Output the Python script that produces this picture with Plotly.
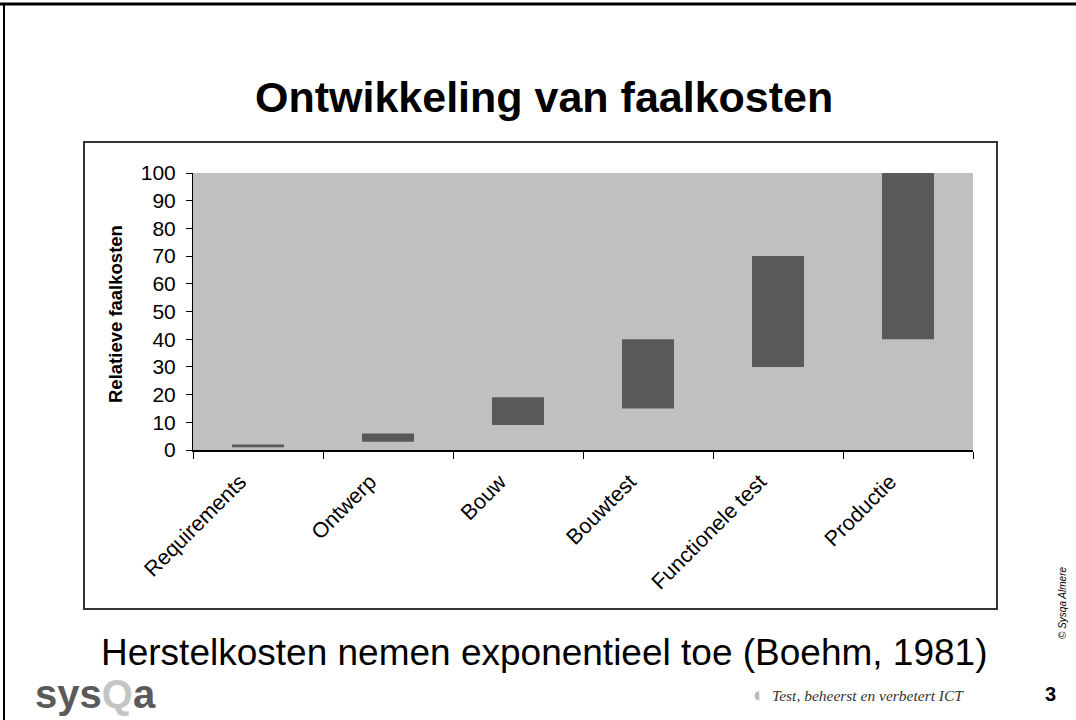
import plotly.graph_objects as go

categories = ["Requirements", "Ontwerp", "Bouw", "Bouwtest", "Functionele test", "Productie"]
low_values = [1, 3, 9, 15, 30, 40]
high_values = [2, 6, 19, 40, 70, 100]
y_ticks = [0, 10, 20, 30, 40, 50, 60, 70, 80, 90, 100]

W, H = 1076, 720
L, R, T, B = 193, 973, 173, 450

def px(x):
    return (x - L) / (R - L)

def py(y):
    return (B - y) / (B - T)

FONT = "Arial, Liberation Sans, sans-serif"

fig = go.Figure()
fig.add_trace(go.Bar(
    x=categories,
    y=[h - l for h, l in zip(high_values, low_values)],
    base=low_values,
    width=0.4,
    marker=dict(color="#595959", line=dict(width=0)),
    hoverinfo="skip",
))

fig.update_layout(
    width=W, height=H,
    margin=dict(l=L, r=W - R, t=T, b=H - B, pad=0),
    paper_bgcolor="white",
    plot_bgcolor="#c0c0c0",
    showlegend=False,
    font=dict(family=FONT, color="black"),
    bargap=0.6,
)

fig.update_yaxes(
    range=[0, 100], tickvals=y_ticks, ticktext=[str(v) for v in y_ticks],
    showgrid=False, zeroline=False,
    showline=True, linecolor="black", linewidth=1,
    ticks="outside", ticklen=6, tickcolor="black",
    ticklabelstandoff=6,
    tickfont=dict(size=21, family=FONT, color="black"),
    fixedrange=True,
)
fig.update_xaxes(
    showgrid=False, zeroline=False,
    showline=True, linecolor="black", linewidth=1.5,
    ticks="outside", ticklen=7, tickcolor="black", tickson="boundaries",
    tickangle=-45,
    ticklabelshift=-18, ticklabelstandoff=9,
    tickfont=dict(size=21.5, family=FONT, color="black"),
    fixedrange=True,
)

shapes = [
    dict(type="rect", xref="paper", yref="paper",
         x0=px(84), x1=px(997), y0=py(609), y1=py(142),
         line=dict(color="#333333", width=2), fillcolor="rgba(0,0,0,0)", layer="below"),
    dict(type="line", xref="paper", yref="paper",
         x0=px(0), x1=px(1076), y0=py(4), y1=py(4),
         line=dict(color="black", width=3)),
    dict(type="line", xref="paper", yref="paper",
         x0=px(4), x1=px(4), y0=py(4), y1=py(720),
         line=dict(color="black", width=2)),
]
fig.update_layout(shapes=shapes)

ann = []
ann.append(dict(text="<b>Ontwikkeling van faalkosten</b>", x=px(544), y=py(97),
                xref="paper", yref="paper", showarrow=False,
                font=dict(size=43, family=FONT, color="black"),
                xanchor="center", yanchor="middle"))
ann.append(dict(text="<b>Relatieve faalkosten</b>", x=px(115), y=py(314),
                xref="paper", yref="paper", showarrow=False, textangle=-90,
                font=dict(size=18.5, family=FONT, color="black"),
                xanchor="center", yanchor="middle"))
ann.append(dict(text="Herstelkosten nemen exponentieel toe (Boehm, 1981)", x=px(544), y=py(652),
                xref="paper", yref="paper", showarrow=False,
                font=dict(size=37, family=FONT, color="black"),
                xanchor="center", yanchor="middle"))
ann.append(dict(text="<b>sys<span style='color:#c4c4c4'>Q</span>a</b>", x=px(33), y=py(694),
                xref="paper", yref="paper", showarrow=False,
                font=dict(size=40, family=FONT, color="#5a5a5a"),
                xanchor="left", yanchor="middle"))
ann.append(dict(text="<i>Test, beheerst en verbetert ICT</i>", x=px(966), y=py(695),
                xref="paper", yref="paper", showarrow=False,
                font=dict(size=15.5, family="Liberation Serif, serif", color="#333333"),
                xanchor="right", yanchor="middle"))
ann.append(dict(text="◖", x=px(757), y=py(695),
                xref="paper", yref="paper", showarrow=False,
                font=dict(size=12, family="DejaVu Sans", color="#bbbbbb"),
                xanchor="center", yanchor="middle"))
ann.append(dict(text="<b>3</b>", x=px(1050), y=py(694),
                xref="paper", yref="paper", showarrow=False,
                font=dict(size=20, family=FONT, color="black"),
                xanchor="center", yanchor="middle"))
ann.append(dict(text="<i>© Sysqa Almere</i>", x=px(1062), y=py(603),
                xref="paper", yref="paper", showarrow=False, textangle=-90,
                font=dict(size=10, family=FONT, color="black"),
                xanchor="center", yanchor="middle"))
fig.update_layout(annotations=ann)

fig.write_html("out.html", config={"displayModeBar": False},
               post_script="document.body.style.margin='0px';document.body.style.padding='0px';")
